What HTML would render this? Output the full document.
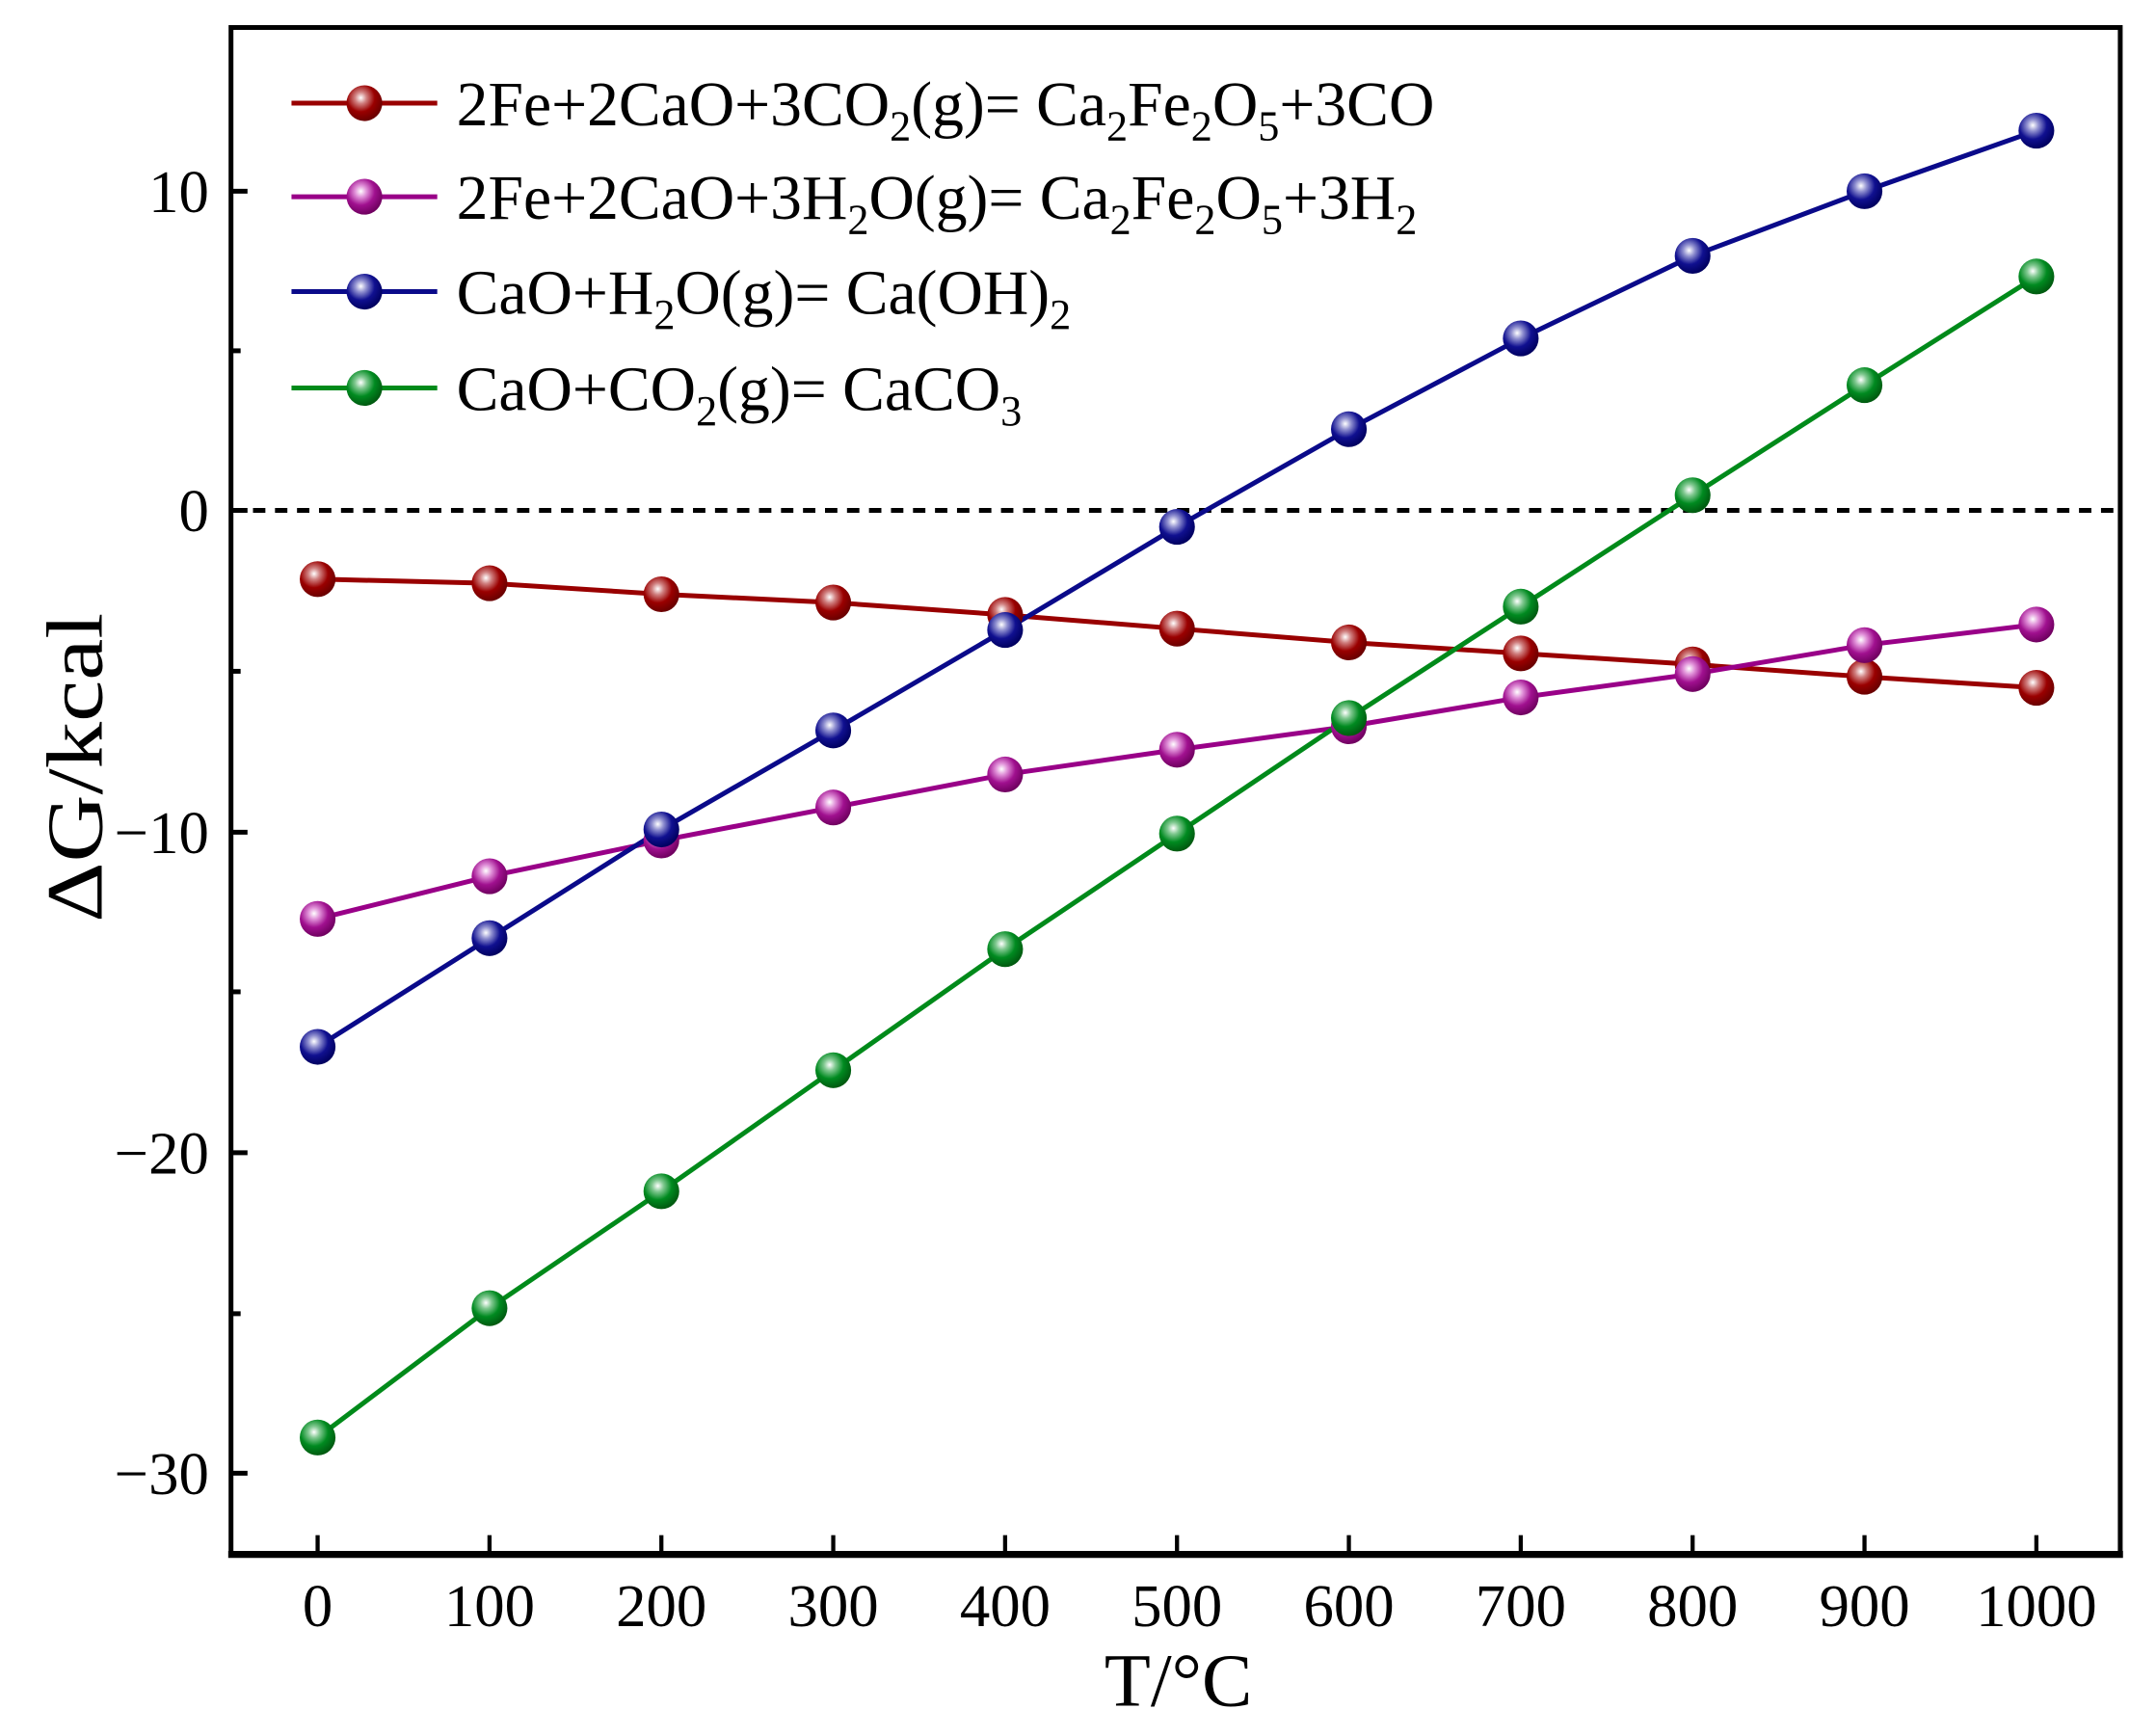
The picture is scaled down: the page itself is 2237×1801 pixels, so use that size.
<!DOCTYPE html>
<html><head><meta charset="utf-8"><style>
html,body{margin:0;padding:0;background:#fff;}
svg{display:block;}
text{font-family:"Liberation Serif","DejaVu Serif",serif;fill:#000;}
</style></head><body>
<svg width="2237" height="1801" viewBox="0 0 1568 1262" preserveAspectRatio="none" xmlns="http://www.w3.org/2000/svg">
<defs>
<radialGradient id="gr" cx="0.4" cy="0.35" r="0.65"><stop offset="0" stop-color="#fff"/><stop offset="0.25" stop-color="#d08080"/><stop offset="0.6" stop-color="#9a0000"/><stop offset="1" stop-color="#6a0000"/></radialGradient>
<radialGradient id="gm" cx="0.4" cy="0.35" r="0.65"><stop offset="0" stop-color="#fff"/><stop offset="0.25" stop-color="#e090d8"/><stop offset="0.6" stop-color="#a0108f"/><stop offset="1" stop-color="#700060"/></radialGradient>
<radialGradient id="gb" cx="0.4" cy="0.35" r="0.65"><stop offset="0" stop-color="#fff"/><stop offset="0.25" stop-color="#9090d0"/><stop offset="0.6" stop-color="#101090"/><stop offset="1" stop-color="#000060"/></radialGradient>
<radialGradient id="gg" cx="0.4" cy="0.35" r="0.65"><stop offset="0" stop-color="#fff"/><stop offset="0.25" stop-color="#80c890"/><stop offset="0.6" stop-color="#008a20"/><stop offset="1" stop-color="#005a10"/></radialGradient>
</defs>
<line x1="168" y1="371" x2="1542" y2="371" stroke="#000" stroke-width="3.5" stroke-dasharray="9,7"/>
<g fill="none" stroke-width="3.5">
<polyline stroke="#990000" points="231,421 356,424 481,432 606,438 731,447 856,457 981,467 1106,475 1231,483 1356,492 1481,500"/>
<polyline stroke="#990088" points="231,668 356,637 481,611 606,587 731,563 856,545 981,528 1106,507 1231,490 1356,469 1481,454"/>
<polyline stroke="#0a0a8a" points="231,761 356,682 481,603 606,531 731,458 856,383 981,312 1106,246 1231,186 1356,139 1481,95"/>
<polyline stroke="#008a1a" points="231,1045 356,951 481,866 606,778 731,690 856,606 981,522 1106,441 1231,360 1356,280 1481,201"/>
</g>
<g fill="url(#gr)"><circle cx="231" cy="421" r="13"/><circle cx="356" cy="424" r="13"/><circle cx="481" cy="432" r="13"/><circle cx="606" cy="438" r="13"/><circle cx="731" cy="447" r="13"/><circle cx="856" cy="457" r="13"/><circle cx="981" cy="467" r="13"/><circle cx="1106" cy="475" r="13"/><circle cx="1231" cy="483" r="13"/><circle cx="1356" cy="492" r="13"/><circle cx="1481" cy="500" r="13"/></g>
<g fill="url(#gm)"><circle cx="231" cy="668" r="13"/><circle cx="356" cy="637" r="13"/><circle cx="481" cy="611" r="13"/><circle cx="606" cy="587" r="13"/><circle cx="731" cy="563" r="13"/><circle cx="856" cy="545" r="13"/><circle cx="981" cy="528" r="13"/><circle cx="1106" cy="507" r="13"/><circle cx="1231" cy="490" r="13"/><circle cx="1356" cy="469" r="13"/><circle cx="1481" cy="454" r="13"/></g>
<g fill="url(#gb)"><circle cx="231" cy="761" r="13"/><circle cx="356" cy="682" r="13"/><circle cx="481" cy="603" r="13"/><circle cx="606" cy="531" r="13"/><circle cx="731" cy="458" r="13"/><circle cx="856" cy="383" r="13"/><circle cx="981" cy="312" r="13"/><circle cx="1106" cy="246" r="13"/><circle cx="1231" cy="186" r="13"/><circle cx="1356" cy="139" r="13"/><circle cx="1481" cy="95" r="13"/></g>
<g fill="url(#gg)"><circle cx="231" cy="1045" r="13"/><circle cx="356" cy="951" r="13"/><circle cx="481" cy="866" r="13"/><circle cx="606" cy="778" r="13"/><circle cx="731" cy="690" r="13"/><circle cx="856" cy="606" r="13"/><circle cx="981" cy="522" r="13"/><circle cx="1106" cy="441" r="13"/><circle cx="1231" cy="360" r="13"/><circle cx="1356" cy="280" r="13"/><circle cx="1481" cy="201" r="13"/></g>
<rect x="168" y="20" width="1374" height="1110" fill="none" stroke="#000" stroke-width="3.5"/>
<line x1="166" y1="1130" x2="1544" y2="1130" stroke="#000" stroke-width="5"/>
<g stroke="#000" stroke-width="3.5">
<line x1="168" y1="139" x2="180" y2="139"/><line x1="168" y1="371" x2="180" y2="371"/><line x1="168" y1="605" x2="180" y2="605"/><line x1="168" y1="838" x2="180" y2="838"/><line x1="168" y1="1071" x2="180" y2="1071"/>
<line x1="168" y1="255" x2="175" y2="255"/><line x1="168" y1="488" x2="175" y2="488"/><line x1="168" y1="721" x2="175" y2="721"/><line x1="168" y1="955" x2="175" y2="955"/>
</g>
<g stroke="#000" stroke-width="3">
<line x1="231" y1="1116" x2="231" y2="1130"/><line x1="356" y1="1116" x2="356" y2="1130"/><line x1="481" y1="1116" x2="481" y2="1130"/><line x1="606" y1="1116" x2="606" y2="1130"/><line x1="731" y1="1116" x2="731" y2="1130"/><line x1="856" y1="1116" x2="856" y2="1130"/><line x1="981" y1="1116" x2="981" y2="1130"/><line x1="1106" y1="1116" x2="1106" y2="1130"/><line x1="1231" y1="1116" x2="1231" y2="1130"/><line x1="1356" y1="1116" x2="1356" y2="1130"/><line x1="1481" y1="1116" x2="1481" y2="1130"/>
</g>
<g font-size="44" text-anchor="end">
<text x="152" y="154">10</text><text x="152" y="386">0</text><text x="152" y="620">−10</text><text x="152" y="853">−20</text><text x="152" y="1086">−30</text>
</g>
<g font-size="44" text-anchor="middle">
<text x="231" y="1182">0</text><text x="356" y="1182">100</text><text x="481" y="1182">200</text><text x="606" y="1182">300</text><text x="731" y="1182">400</text><text x="856" y="1182">500</text><text x="981" y="1182">600</text><text x="1106" y="1182">700</text><text x="1231" y="1182">800</text><text x="1356" y="1182">900</text><text x="1481" y="1182">1000</text>
</g>
<text x="857" y="1240" font-size="55" text-anchor="middle">T/°C</text>
<text transform="translate(74,558) rotate(-90)" font-size="58" text-anchor="middle" textLength="225" lengthAdjust="spacingAndGlyphs">ΔG/kcal</text>
<line x1="212" y1="75" x2="318" y2="75" stroke="#990000" stroke-width="3.5"/><circle cx="265" cy="75" r="13" fill="url(#gr)"/>
<line x1="212" y1="143" x2="318" y2="143" stroke="#990088" stroke-width="3.5"/><circle cx="265" cy="143" r="13" fill="url(#gm)"/>
<line x1="212" y1="212" x2="318" y2="212" stroke="#0a0a8a" stroke-width="3.5"/><circle cx="265" cy="212" r="13" fill="url(#gb)"/>
<line x1="212" y1="282" x2="318" y2="282" stroke="#008a1a" stroke-width="3.5"/><circle cx="265" cy="282" r="13" fill="url(#gg)"/>
<g font-size="46">
<text x="332" y="91">2Fe+2CaO+3CO<tspan font-size="31" dy="11">2</tspan><tspan dy="-11">(g)= Ca</tspan><tspan font-size="31" dy="11">2</tspan><tspan dy="-11">Fe</tspan><tspan font-size="31" dy="11">2</tspan><tspan dy="-11">O</tspan><tspan font-size="31" dy="11">5</tspan><tspan dy="-11">+3CO</tspan></text>
<text x="332" y="159">2Fe+2CaO+3H<tspan font-size="31" dy="11">2</tspan><tspan dy="-11">O(g)= Ca</tspan><tspan font-size="31" dy="11">2</tspan><tspan dy="-11">Fe</tspan><tspan font-size="31" dy="11">2</tspan><tspan dy="-11">O</tspan><tspan font-size="31" dy="11">5</tspan><tspan dy="-11">+3H</tspan><tspan font-size="31" dy="11">2</tspan></text>
<text x="332" y="228">CaO+H<tspan font-size="31" dy="11">2</tspan><tspan dy="-11">O(g)= Ca(OH)</tspan><tspan font-size="31" dy="11">2</tspan></text>
<text x="332" y="298">CaO+CO<tspan font-size="31" dy="11">2</tspan><tspan dy="-11">(g)= CaCO</tspan><tspan font-size="31" dy="11">3</tspan></text>
</g>
</svg>
</body></html>
